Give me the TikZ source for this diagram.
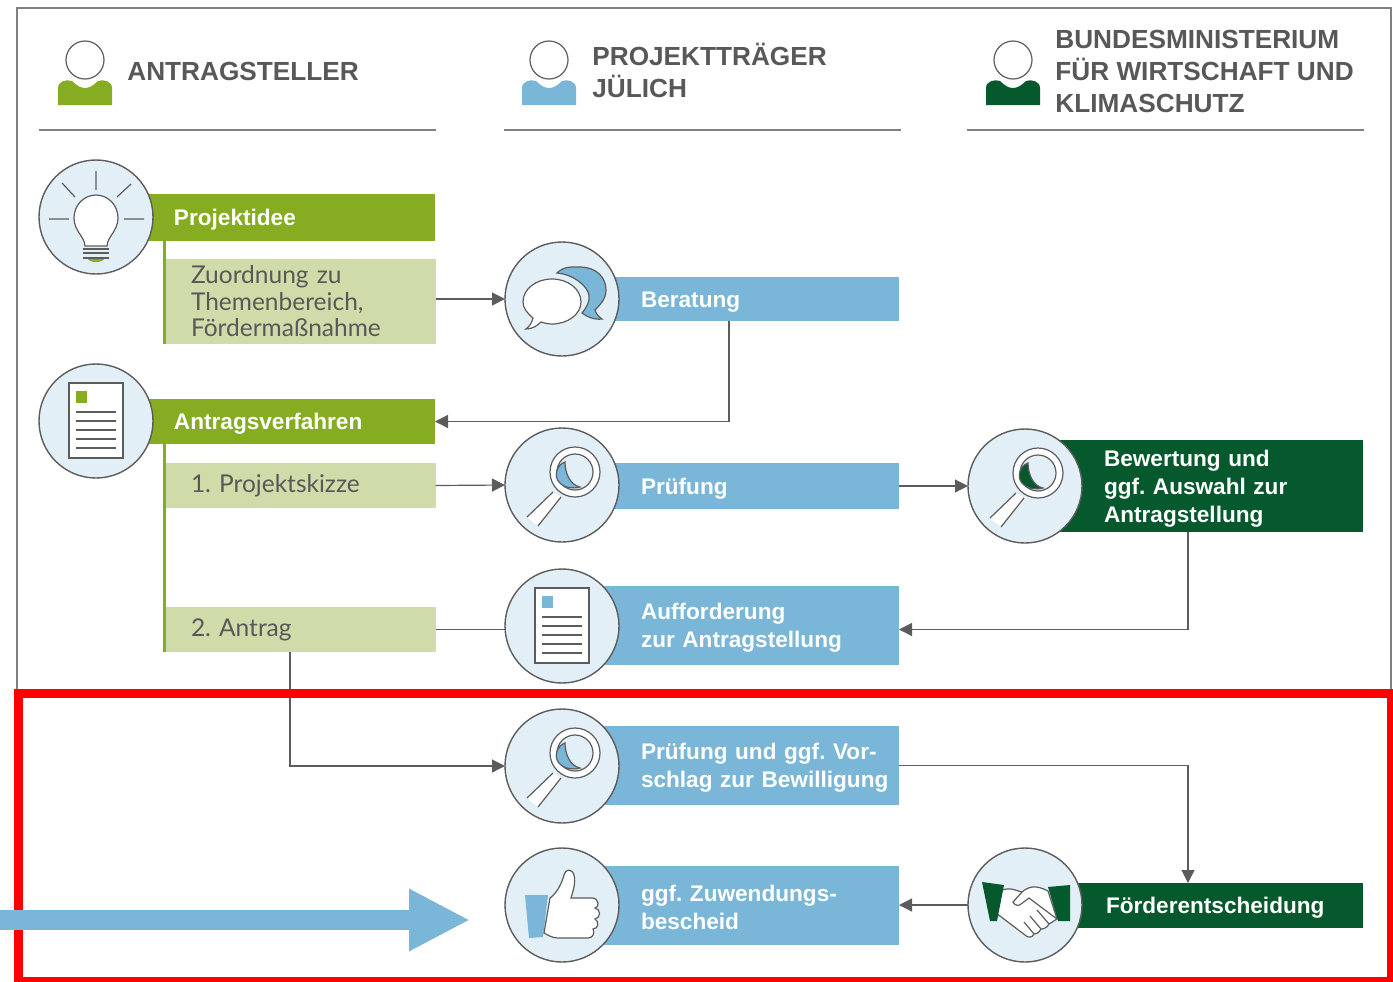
\documentclass[tikz,border=0pt]{standalone}
\usepackage{fontspec}
\setmainfont{Liberation Sans}
\newfontfamily\latofont{Lato}
\usetikzlibrary{arrows.meta}
\definecolor{leafgreen}{HTML}{86AC21}
\definecolor{palegreen}{HTML}{D0DBAA}
\definecolor{skyblue}{HTML}{7AB6D7}
\definecolor{pineblue}{HTML}{E3EFF7}
\definecolor{pinegreen}{HTML}{05592C}
\definecolor{linegray}{HTML}{5C5C5C}
\definecolor{headgray}{HTML}{585858}
\tikzset{
    taskbar/.style 2 args={text width=#1, minimum height=#2, inner xsep=0pt, inner ysep=0pt, outer sep=0pt,
        anchor=north west, align=left, text=white, font=\fontsize{11.3}{14}\selectfont\bfseries\frenchspacing,
        execute at begin node={\leftskip=20.5pt\rule{0pt}{10.5pt}}},
    subbar/.style 2 args={text width=#1, minimum height=#2, inner xsep=0pt, inner ysep=0pt, outer sep=0pt,
        anchor=north west, align=left, fill=palegreen, text=headgray, font=\latofont\fontsize{12.25}{13.25}\selectfont\frenchspacing,
        execute at begin node={\leftskip=13.25pt}},
    heading/.style={anchor=west, align=left, inner sep=0pt, text=headgray, font=\fontsize{13.1}{16}\selectfont\bfseries},
    iconcircle/.style={circle, draw=linegray, line width=0.7pt, fill=pineblue, minimum size=57pt, inner sep=0pt, outer sep=0pt},
    conn/.style={draw=linegray, line width=0.6pt, -{Triangle[length=6.5pt,width=6.5pt]}},
    plainconn/.style={draw=linegray, line width=0.6pt},
    stem/.style={draw=leafgreen, line width=1.5pt},
    iconline/.style={draw=linegray, line width=0.6pt},
    pics/person/.style={code={
        \draw[iconline, fill=white] (0,0) circle[radius=19];
        \fill[#1] (-27,45) -- (-27,28) .. controls (-27,21) and (-18,19) .. (-13,21) .. controls (-8,26) and (-4,28) .. (0,28)
            .. controls (4,28) and (8,26) .. (13,21) .. controls (18,19) and (27,21) .. (27,28) -- (27,45) -- cycle;
    }},
    pics/bulb/.style={code={
        \draw[iconline] (0,-46) -- (0,-27) (-34,-34) -- (-21,-20) (35,-33) -- (21,-20) (-47,2) -- (-27,2) (28,2) -- (48,2);
        \draw[iconline, fill=white] (-11,29) .. controls (-11,20) and (-22,14) .. (-22,1) .. controls (-22,-12) and (-12,-22) .. (0,-22)
            .. controls (12,-22) and (22,-12) .. (22,1) .. controls (22,14) and (11,20) .. (11,29) -- cycle;
        \draw[iconline] (-13,32) -- (13,32) (-13,36) -- (13,36) (-13,41) -- (13,41);
        \fill[#1] (-8,42) -- (8,42) .. controls (6,46) and (-6,46) .. (-8,42) -- cycle;
    }},
    pics/sheet/.style={code={
        \draw[iconline, fill=white] (-27,-38) rectangle (27,37);
        \fill[#1] (-20,-30) rectangle (-9,-18);
        \foreach \y in {-9,0,9,18,27} \draw[iconline] (-20,\y) -- (20,\y);
    }},
    pics/bubbles/.style={code={
        \draw[iconline, fill=#1] (-5,-26) .. controls (2,-33) and (10,-32) .. (18,-32) .. controls (34,-32) and (44,-22) .. (44,-9)
            .. controls (44,0) and (38,6) .. (33,11) .. controls (34,15) and (37,18) .. (40,20) .. controls (32,21) and (25,18) .. (20,14)
            .. controls (25,8) and (28,2) .. (27,-4) .. controls (25,-14) and (10,-25) .. (-5,-26) -- cycle;
        \draw[iconline, fill=white, preaction={draw=pineblue, line width=2.4pt}] (-29,19) .. controls (-35,14) and (-39,9) .. (-39,3)
            .. controls (-39,-10) and (-26,-20) .. (-10,-20) .. controls (6,-20) and (19,-10) .. (19,3) .. controls (19,15) and (6,25) .. (-10,25)
            .. controls (-14,25) and (-18,24) .. (-21,23) .. controls (-25,27) and (-30,30) .. (-36,30) .. controls (-32,27) and (-30,23) .. (-29,19) -- cycle;
    }},
    pics/lens/.style={code={
        \fill[white] (-9,7) -- (-1,12) -- (-24,41) -- (-35,32) -- cycle;
        \draw[iconline] (-9,7) -- (-35,32) (-1,12) -- (-24,41);
        \draw[iconline, fill=white] (13,-13) circle[radius=25];
        \draw[iconline, fill=pineblue] (13,-13) circle[radius=18];
        \draw[iconline, fill=#1] (3,-23) .. controls (-6,-20) and (-8,-8) .. (-3,-3) .. controls (2,3) and (11,4) .. (18,2)
            .. controls (8,0) and (3,-12) .. (3,-23) -- cycle;
    }},
    pics/thumb/.style={code={
        \fill[#1] (-37,-10) -- (-14,-10) -- (-19,32) -- (-33,33) -- cycle;
        \draw[iconline, fill=white] (-12,-7) .. controls (-5,-12) and (0,-22) .. (2,-30) .. controls (3,-36) and (10,-37) .. (12,-30)
            .. controls (14,-22) and (11,-14) .. (9,-7) -- (30,-7) .. controls (37,-7) and (38,2) .. (33,3) .. controls (39,4) and (39,13) .. (33,14)
            .. controls (37,16) and (37,24) .. (31,24) .. controls (33,28) and (31,33) .. (26,33) -- (-4,33)
            .. controls (-10,33) and (-14,30) .. (-18,28) -- cycle;
    }},
    pics/handshake/.style={code={
        \draw[iconline, fill=white] (-23,-15) .. controls (-14,-18) and (-8,-14) .. (-3,-13) .. controls (3,-18) and (10,-21) .. (23,-14)
            -- (32,14) .. controls (28,16) and (27,18) .. (24,19) .. controls (22,23) and (18,24) .. (16,24)
            .. controls (14,28) and (11,29) .. (9,29) .. controls (7,33) and (3,33) .. (0,30) -- (-29,8) -- cycle;
        \draw[iconline] (-3,-13) -- (-12,-3) .. controls (-10,1) and (-6,1) .. (-4,-1) -- (4,-7) -- (32,14)
            (12,5) -- (24,19) (5,11) -- (16,24) (-1,17) -- (9,29);
        \fill[#1] (-43,-23) -- (-21,-20) -- (-28,16) -- (-35,16) -- cycle;
        \fill[#1] (23,-18) -- (45,-20) -- (45,16) -- (33,16) -- cycle;
    }},
}
\begin{document}
\begin{tikzpicture}[x=0.5pt,y=-0.5pt]
    \useasboundingbox (0,0) rectangle (1393,981);
    \draw[draw=gray, line width=0.8pt] (17,8) rectangle (1391,692);
    \foreach \x in {39,504,967} \draw[gray, line width=0.6pt] (\x,130) -- ++(397,0);
    \foreach \x/\c in {85/leafgreen,549/skyblue,1013/pinegreen} \pic at (\x,60) {person=\c};
    \node[heading] (antragsteller) at (127,71) {ANTRAGSTELLER};
    \node[heading] (traeger) at (592,70) {PROJEKTTRÄGER\\JÜLICH};
    \node[heading] (ministerium) at (1055,71) {BUNDESMINISTERIUM\\FÜR WIRTSCHAFT UND\\KLIMASCHUTZ};

    \node[taskbar={151pt}{23.5pt}, fill=leafgreen] (projektidee) at (133,194) {Projektidee};
    \node[subbar={135.5pt}{42.5pt}] (zuordnung) at (164.5,259) {Zuordnung zu\\Themenbereich,\\Fördermaßnahme};
    \node[taskbar={151pt}{22.5pt}, fill=leafgreen] (antragsverfahren) at (133,399) {Antragsverfahren};
    \node[subbar={135.5pt}{22.5pt}] (skizze) at (164.5,463) {1. Projektskizze};
    \node[subbar={135.5pt}{22.5pt}] (antrag) at (164.5,607) {2. Antrag};

    \node[taskbar={149.5pt}{22pt}, fill=skyblue] (beratung) at (600,277) {Beratung};
    \node[taskbar={149.5pt}{23pt}, fill=skyblue] (pruefung) at (600,463) {Prüfung};
    \node[taskbar={149.5pt}{39.5pt}, fill=skyblue] (aufforderung) at (600,586) {Aufforderung\\zur Antragstellung};
    \node[taskbar={149.5pt}{39.5pt}, fill=skyblue] (vorschlag) at (600,726) {Prüfung und ggf. Vor-\\schlag zur Bewilligung};
    \node[taskbar={149.5pt}{39.5pt}, fill=skyblue] (bescheid) at (600,866) {ggf. Zuwendungs-\\bescheid};

    \node[taskbar={154pt}{46pt}, fill=pinegreen, execute at begin node={\leftskip=24.5pt\rule{0pt}{10.5pt}}] (bewertung) at (1055,440) {Bewertung und\\ggf. Auswahl zur\\Antragstellung};
    \node[taskbar={149pt}{22.5pt}, fill=pinegreen] (foerder) at (1065,883) {Förderentscheidung};

    \draw[stem] (zuordnung.south west |- projektidee.south) -- (zuordnung.south west);
    \draw[stem] (antrag.south west |- antragsverfahren.south) -- (antrag.south west);

    \node[iconcircle] (ideeicon) at (96,217) {};
    \node[iconcircle] (verfahrenicon) at (96,421) {};
    \node[iconcircle] (beratungicon) at (562,299) {};
    \node[iconcircle] (pruefungicon) at (562,485) {};
    \node[iconcircle] (aufforderungicon) at (562,626) {};
    \node[iconcircle] (vorschlagicon) at (562,766) {};
    \node[iconcircle] (bescheidicon) at (562,905) {};
    \node[iconcircle] (bewertungicon) at (1025,486) {};
    \node[iconcircle] (foerdericon) at (1025,905) {};

    \pic at (ideeicon) {bulb=leafgreen};
    \pic at (verfahrenicon) {sheet=leafgreen};
    \pic at (beratungicon) {bubbles=skyblue};
    \pic at (pruefungicon) {lens=skyblue};
    \pic at (aufforderungicon) {sheet=skyblue};
    \pic at (vorschlagicon) {lens=skyblue};
    \pic at (bescheidicon) {thumb=skyblue};
    \pic at (bewertungicon) {lens=pinegreen};
    \pic at (foerdericon) {handshake=pinegreen};

    \coordinate (beratungdrop) at (729,321);
    \coordinate (bewertungdrop) at (1188,532);
    \coordinate (antragdrop) at (290,652);
    \coordinate (foerderdrop) at (1188,883);

    \draw[conn] (zuordnung.east |- beratungicon) -- (beratungicon.west);
    \draw[conn] (beratungdrop) |- (antragsverfahren.east);
    \draw[conn] (skizze.east) -- (pruefungicon.west);
    \draw[conn] (pruefung.east |- bewertungicon) -- (bewertungicon.west);
    \draw[conn] (bewertungdrop) |- (aufforderung.east |- antrag.east);
    \draw[plainconn] (antrag.east) -- (aufforderungicon.west |- antrag.east);
    \draw[conn] (antragdrop) |- (vorschlagicon.west);
    \draw[conn] (vorschlag.east) -| (foerderdrop);
    \draw[conn] (foerdericon.west) -- (bescheid.east |- foerdericon);

    \draw[red, line width=4.5pt] (18,693.5) rectangle (1391.5,981);
    \coordinate (bluestart) at (0,920);
    \coordinate (bluetip) at (470,920);
    \draw[skyblue, line width=10pt, -{Triangle[length=30.5pt,width=29pt]}] (bluestart) -- (bluetip);
\end{tikzpicture}
\end{document}
